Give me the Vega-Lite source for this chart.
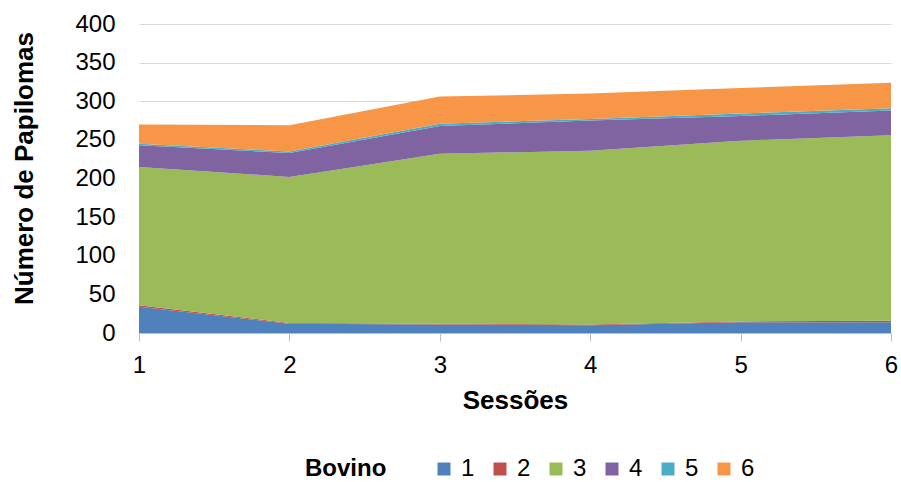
{
  "$schema": "https://vega.github.io/schema/vega-lite/v6.json",
  "width": 752,
  "height": 309,
  "autosize": {"type": "none"},
  "padding": {"left": 139, "top": 24, "right": 10, "bottom": 149},
  "background": "white",
  "config": {
    "font": "Liberation Sans",
    "view": {"stroke": null}
  },
  "data": {
    "values": [
      {"sessao": 1, "bovino": "1", "papilomas": 34},
      {"sessao": 1, "bovino": "2", "papilomas": 2},
      {"sessao": 1, "bovino": "3", "papilomas": 179},
      {"sessao": 1, "bovino": "4", "papilomas": 28},
      {"sessao": 1, "bovino": "5", "papilomas": 2},
      {"sessao": 1, "bovino": "6", "papilomas": 25},
      {"sessao": 2, "bovino": "1", "papilomas": 12},
      {"sessao": 2, "bovino": "2", "papilomas": 1},
      {"sessao": 2, "bovino": "3", "papilomas": 189},
      {"sessao": 2, "bovino": "4", "papilomas": 31},
      {"sessao": 2, "bovino": "5", "papilomas": 2},
      {"sessao": 2, "bovino": "6", "papilomas": 34},
      {"sessao": 3, "bovino": "1", "papilomas": 11},
      {"sessao": 3, "bovino": "2", "papilomas": 1},
      {"sessao": 3, "bovino": "3", "papilomas": 220},
      {"sessao": 3, "bovino": "4", "papilomas": 36},
      {"sessao": 3, "bovino": "5", "papilomas": 3},
      {"sessao": 3, "bovino": "6", "papilomas": 35},
      {"sessao": 4, "bovino": "1", "papilomas": 10},
      {"sessao": 4, "bovino": "2", "papilomas": 1},
      {"sessao": 4, "bovino": "3", "papilomas": 225},
      {"sessao": 4, "bovino": "4", "papilomas": 39},
      {"sessao": 4, "bovino": "5", "papilomas": 2},
      {"sessao": 4, "bovino": "6", "papilomas": 33},
      {"sessao": 5, "bovino": "1", "papilomas": 14},
      {"sessao": 5, "bovino": "2", "papilomas": 1},
      {"sessao": 5, "bovino": "3", "papilomas": 234},
      {"sessao": 5, "bovino": "4", "papilomas": 32},
      {"sessao": 5, "bovino": "5", "papilomas": 3},
      {"sessao": 5, "bovino": "6", "papilomas": 33},
      {"sessao": 6, "bovino": "1", "papilomas": 14},
      {"sessao": 6, "bovino": "2", "papilomas": 2},
      {"sessao": 6, "bovino": "3", "papilomas": 240},
      {"sessao": 6, "bovino": "4", "papilomas": 32},
      {"sessao": 6, "bovino": "5", "papilomas": 3},
      {"sessao": 6, "bovino": "6", "papilomas": 33}
    ]
  },
  "mark": {"type": "area", "opacity": 1},
  "encoding": {
    "x": {
      "field": "sessao",
      "type": "quantitative",
      "scale": {"domain": [1, 6], "nice": false, "zero": false},
      "axis": {
        "title": "Sessões",
        "values": [1, 2, 3, 4, 5, 6],
        "format": "d",
        "grid": false,
        "labelFlush": false,
        "domainColor": "#BFBFBF",
        "domainWidth": 1,
        "tickColor": "#BFBFBF",
        "tickSize": 8,
        "labelPadding": 12,
        "labelFontSize": 24,
        "labelColor": "#000000",
        "labelFont": "Liberation Sans",
        "titleFont": "Liberation Sans",
        "titleFontSize": 26,
        "titleFontWeight": "bold",
        "titleColor": "#000000",
        "titleBaseline": "alphabetic",
        "titleY": 75
      }
    },
    "y": {
      "field": "papilomas",
      "type": "quantitative",
      "stack": "zero",
      "scale": {"domain": [0, 400], "nice": false},
      "axis": {
        "title": "Número de Papilomas",
        "values": [0, 50, 100, 150, 200, 250, 300, 350, 400],
        "domain": false,
        "ticks": false,
        "tickSize": 0,
        "gridColor": "#D9D9D9",
        "gridWidth": 1,
        "labelPadding": 24,
        "labelFontSize": 24,
        "labelColor": "#000000",
        "labelFont": "Liberation Sans",
        "titleFont": "Liberation Sans",
        "titleFontSize": 26,
        "titleFontWeight": "bold",
        "titleColor": "#000000",
        "titleBaseline": "alphabetic",
        "titleX": -107,
        "titleY": 144
      }
    },
    "color": {
      "field": "bovino",
      "type": "nominal",
      "scale": {
        "domain": ["1", "2", "3", "4", "5", "6"],
        "range": ["#4F81BD", "#C0504D", "#9BBB59", "#8064A2", "#4BACC6", "#F79646"]
      },
      "legend": {
        "title": "Bovino",
        "orient": "none",
        "legendX": 166,
        "legendY": 433,
        "direction": "horizontal",
        "titleOrient": "left",
        "titleFontSize": 24,
        "titleFontWeight": "bold",
        "titleColor": "#000000",
        "titleFont": "Liberation Sans",
        "titlePadding": 45,
        "labelFontSize": 24,
        "labelColor": "#000000",
        "labelFont": "Liberation Sans",
        "labelOffset": 5,
        "symbolType": "square",
        "symbolSize": 169,
        "symbolStrokeWidth": 0,
        "columnPadding": 13
      }
    },
    "order": {"field": "bovino", "type": "nominal", "sort": "ascending"}
  }
}
